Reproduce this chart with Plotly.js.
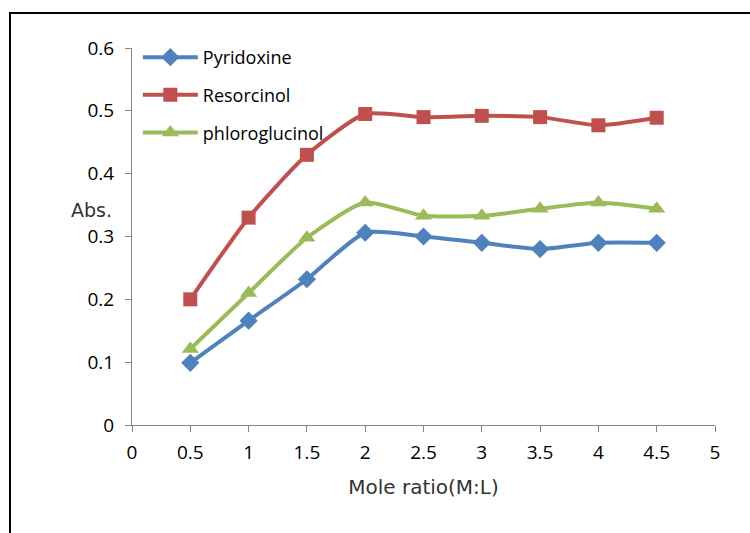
<!DOCTYPE html>
<html>
<head>
<meta charset="utf-8">
<script src="https://cdn.plot.ly/plotly-3.0.1.min.js"></script>
<style>
  html, body { margin: 0; padding: 0; width: 750px; height: 533px; overflow: hidden; background: #fff; }
  #frame { position: absolute; left: 9px; top: 12px; width: 800px; height: 600px; border-left: 2px solid #000; border-top: 2px solid #000; }
  #chart { position: absolute; left: 0; top: 0; width: 750px; height: 533px; }
</style>
</head>
<body>
<div id="frame"></div>
<div id="chart"></div>
<script>
const moleRatio = [0.5, 1, 1.5, 2, 2.5, 3, 3.5, 4, 4.5];
const pyridoxine = [0.099, 0.166, 0.232, 0.306, 0.300, 0.290, 0.280, 0.290, 0.290];
const resorcinol = [0.200, 0.330, 0.430, 0.495, 0.490, 0.492, 0.490, 0.477, 0.489];
const phloroglucinol = [0.121, 0.210, 0.298, 0.354, 0.333, 0.333, 0.344, 0.354, 0.344];
const seriesNames = ['Pyridoxine', 'Resorcinol', 'phloroglucinol'];
const xTicks = [0, 0.5, 1, 1.5, 2, 2.5, 3, 3.5, 4, 4.5, 5];
const yTicks = [0, 0.1, 0.2, 0.3, 0.4, 0.5, 0.6];

const FONT = 'Open Sans, Liberation Sans, sans-serif';
const TFONT = 'DejaVu Sans, Verdana, sans-serif';
const mk = (y, name, color, symbol, size, legend) => ({
  x: moleRatio, y: y, name: name, type: 'scatter', mode: 'lines+markers',
  line: {color: color, width: 4, shape: 'spline', smoothing: 0.6},
  marker: {color: color, symbol: symbol, size: size},
  legend: legend
});
const data = [
  mk(pyridoxine, seriesNames[0], '#4F81BD', 'diamond', 14, 'legend'),
  mk(resorcinol, seriesNames[1], '#C0504D', 'square', 14, 'legend2'),
  mk(phloroglucinol, seriesNames[2], '#9BBB59', 'triangle-up', 15, 'legend3')
];
const legBase = (y) => ({
  x: 0.01, y: y, xanchor: 'left', yanchor: 'middle',
  bgcolor: 'rgba(0,0,0,0)', font: {family: FONT, size: 18, color: '#000'},
  itemwidth: 55, itemsizing: 'trace'
});
const layout = {
  width: 750, height: 533,
  margin: {l: 132, r: 35, t: 48, b: 108},
  paper_bgcolor: 'rgba(0,0,0,0)', plot_bgcolor: 'rgba(0,0,0,0)',
  showlegend: true,
  legend: legBase(0.975),
  legend2: legBase(0.875),
  legend3: legBase(0.775),
  xaxis: {
    range: [0, 5], tickvals: xTicks, ticktext: xTicks.map(String),
    showgrid: false, zeroline: false, showline: true, linecolor: '#868686', linewidth: 1,
    ticks: 'outside', ticklen: 6, tickcolor: '#868686', ticklabelstandoff: 4,
    tickfont: {family: FONT, size: 19, color: '#000'},
    title: {text: 'Mole ratio(M:L)', font: {family: TFONT, size: 20, color: '#333'}, standoff: 16}
  },
  yaxis: {
    range: [0, 0.6], tickvals: yTicks, ticktext: yTicks.map(String),
    showgrid: false, zeroline: false, showline: true, linecolor: '#868686', linewidth: 1,
    ticks: 'outside', ticklen: 6, tickcolor: '#868686', ticklabelstandoff: 7,
    tickfont: {family: FONT, size: 19, color: '#000'}
  },
  annotations: [{
    text: 'Abs.', xref: 'paper', yref: 'paper', x: -0.031, y: 0.57,
    xanchor: 'right', yanchor: 'middle', showarrow: false,
    font: {family: TFONT, size: 19, color: '#333'}
  }]
};
Plotly.newPlot('chart', data, layout, {displayModeBar: false, staticPlot: true});
</script>
</body>
</html>
